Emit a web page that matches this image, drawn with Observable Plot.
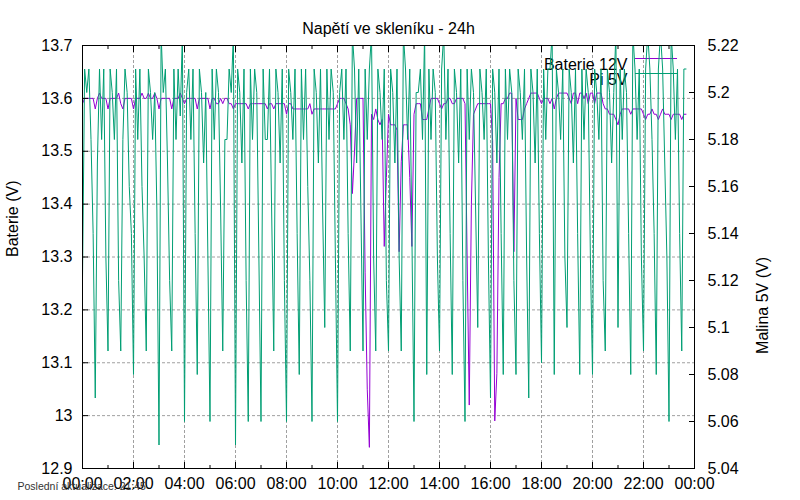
<!DOCTYPE html>
<html><head><meta charset="utf-8">
<script src="https://cdn.jsdelivr.net/npm/d3@7"></script>
<script src="https://cdn.jsdelivr.net/npm/@observablehq/plot@0.6"></script>
<style>body{margin:0;background:#fff}#chart{width:800px;height:500px}</style>
</head><body><div id="chart"></div>
<script>
const title = "Napětí ve skleníku - 24h";
const caption = "Poslední aktualizace: 21:45";
const seriesNames = ["Baterie 12V", "Pi 5V"];
const axisLabels = ["Baterie (V)", "Malina 5V (V)"];
const sampleMinutes = 5;

const battery = [
13.59,13.6,13.6,13.6,13.6,13.6,13.58,13.6,13.61,13.6,13.6,13.6,
13.58,13.6,13.6,13.6,13.6,13.61,13.59,13.58,13.6,13.6,13.6,13.6,
13.58,13.6,13.6,13.6,13.61,13.6,13.6,13.61,13.6,13.6,13.61,13.6,
13.58,13.6,13.6,13.6,13.6,13.6,13.58,13.6,13.6,13.6,13.61,13.6,
13.59,13.6,13.6,13.6,13.6,13.6,13.58,13.6,13.6,13.6,13.6,13.6,
13.58,13.6,13.6,13.59,13.59,13.6,13.59,13.6,13.6,13.59,13.59,13.58,
13.59,13.59,13.59,13.59,13.59,13.59,13.58,13.59,13.59,13.59,13.59,13.59,
13.59,13.59,13.59,13.58,13.59,13.59,13.58,13.59,13.59,13.59,13.59,13.59,
13.57,13.59,13.59,13.58,13.58,13.58,13.58,13.58,13.58,13.58,13.58,13.59,
13.57,13.58,13.58,13.58,13.58,13.58,13.58,13.58,13.58,13.58,13.58,13.58,
13.59,13.6,13.6,13.6,13.59,13.58,13.55,13.42,13.5,13.6,13.6,13.6,
13.6,13.27,13.05,12.94,13.57,13.56,13.58,13.56,13.55,13.56,13.32,13.45,
13.57,13.55,13.55,13.55,13.54,13.31,13.48,13.55,13.55,13.55,13.45,13.32,
13.57,13.59,13.59,13.59,13.56,13.56,13.56,13.58,13.6,13.6,13.6,13.6,
13.59,13.58,13.59,13.59,13.6,13.6,13.59,13.59,13.6,13.6,13.6,13.6,
13.59,13.3,13.02,13.4,13.57,13.58,13.59,13.59,13.59,13.59,13.59,13.59,
13.59,13.52,12.99,13.08,13.45,13.59,13.59,13.6,13.6,13.61,13.61,13.31,
13.6,13.56,13.56,13.56,13.58,13.59,13.6,13.61,13.61,13.61,13.61,13.6,
13.59,13.6,13.6,13.6,13.59,13.6,13.58,13.6,13.61,13.61,13.61,13.61,
13.61,13.6,13.59,13.61,13.61,13.59,13.61,13.61,13.6,13.61,13.59,13.61,
13.61,13.59,13.61,13.61,13.61,13.59,13.58,13.58,13.57,13.57,13.57,13.56,
13.55,13.57,13.58,13.58,13.58,13.58,13.57,13.58,13.58,13.58,13.58,13.58,
13.57,13.56,13.57,13.57,13.58,13.57,13.57,13.56,13.57,13.58,13.57,13.57,
13.57,13.56,13.57,13.57,13.57,13.57,13.56,13.57,13.57
];

const pi = [
5.12,5.21,5.2,5.21,5.18,5.14,5.07,5.17,5.21,5.18,5.21,5.13,
5.09,5.21,5.2,5.18,5.21,5.12,5.09,5.18,5.21,5.2,5.16,5.14,
5.08,5.21,5.18,5.21,5.16,5.13,5.09,5.21,5.2,5.18,5.2,5.15,
5.05,5.225,5.2,5.21,5.17,5.12,5.09,5.21,5.18,5.21,5.19,5.225,
5.06,5.2,5.21,5.18,5.21,5.14,5.08,5.21,5.2,5.17,5.2,5.13,
5.06,5.21,5.18,5.21,5.2,5.15,5.09,5.18,5.18,5.21,5.2,5.225,
5.05,5.21,5.2,5.17,5.21,5.12,5.06,5.21,5.18,5.21,5.2,5.13,
5.06,5.21,5.18,5.18,5.21,5.15,5.09,5.21,5.2,5.17,5.21,5.12,
5.06,5.21,5.2,5.18,5.21,5.14,5.08,5.21,5.18,5.21,5.16,5.12,
5.06,5.21,5.2,5.17,5.21,5.15,5.10,5.21,5.18,5.21,5.2,5.13,
5.06,5.2,5.21,5.18,5.21,5.14,5.09,5.225,5.21,5.17,5.21,5.15,
5.09,5.21,5.18,5.21,5.225,5.13,5.09,5.21,5.2,5.18,5.21,5.12,
5.09,5.21,5.2,5.17,5.21,5.13,5.09,5.225,5.21,5.18,5.21,5.14,
5.06,5.2,5.2,5.21,5.18,5.225,5.08,5.21,5.18,5.21,5.2,5.13,
5.09,5.21,5.225,5.18,5.21,5.14,5.08,5.21,5.2,5.17,5.21,5.12,
5.06,5.21,5.18,5.21,5.2,5.15,5.10,5.21,5.2,5.18,5.21,5.13,
5.07,5.21,5.2,5.17,5.21,5.14,5.08,5.21,5.18,5.21,5.2,5.12,
5.08,5.21,5.2,5.18,5.21,5.13,5.07,5.21,5.2,5.17,5.21,5.14,
5.085,5.21,5.18,5.21,5.21,5.225,5.08,5.21,5.2,5.18,5.21,5.13,
5.10,5.21,5.2,5.17,5.21,5.14,5.08,5.21,5.18,5.21,5.2,5.13,
5.08,5.21,5.2,5.18,5.21,5.12,5.09,5.21,5.2,5.17,5.2,5.225,
5.10,5.21,5.18,5.21,5.2,5.14,5.08,5.225,5.21,5.18,5.21,5.13,
5.09,5.21,5.225,5.21,5.18,5.14,5.08,5.21,5.225,5.21,5.17,5.13,
5.06,5.225,5.21,5.18,5.21,5.14,5.09,5.21,5.21
];

const hourTicks = [0,2,4,6,8,10,12,14,16,18,20,22,24];
const hourMinorTicks = [1,3,5,7,9,11,13,15,17,19,21,23];
const batteryTicks = [12.9,13.0,13.1,13.2,13.3,13.4,13.5,13.6,13.7];
const batteryGrid = [13.0,13.1,13.2,13.3,13.4,13.5,13.6];
const piTicks = [5.04,5.06,5.08,5.10,5.12,5.14,5.16,5.18,5.20,5.22];
const batteryDomain = [12.9, 13.7];
const piDomain = [5.04, 5.22];

const colors = {battery: "#9400d3", pi: "#009e73", grid: "#a0a0a0"};

const k = (batteryDomain[1] - batteryDomain[0]) / (piDomain[1] - piDomain[0]);
const toLeft = v => batteryDomain[0] + (v - piDomain[0]) * k;
const fromLeft = y => piDomain[0] + (y - batteryDomain[0]) / k;

const rows = battery.map((b, i) => ({t: i * sampleMinutes / 60, battery: b, pi: pi[i]}));
const hhmm = h => String(h % 24).padStart(2, "0") + ":00";
const blank = () => "";

const chart = Plot.plot({
  width: 800, height: 500,
  marginLeft: 82, marginRight: 106, marginTop: 45, marginBottom: 32,
  style: {fontFamily: "'Liberation Sans', Arial, sans-serif", fontSize: "16px", background: "#fff", color: "#000"},
  x: {domain: [0, 24], label: null},
  y: {domain: batteryDomain, label: null},
  marks: [
    Plot.gridY(batteryGrid, {stroke: colors.grid, strokeOpacity: 1, strokeDasharray: "3,2"}),
    Plot.gridX(hourTicks.slice(1, -1), {stroke: colors.grid, strokeOpacity: 1, strokeDasharray: "3,2"}),
    Plot.text([seriesNames[0]], {frameAnchor: "top-right", dx: -67, dy: 13, textAnchor: "end", text: d => d, fontSize: 16, fill: "#000"}),
    Plot.text([seriesNames[1]], {frameAnchor: "top-right", dx: -67, dy: 28, textAnchor: "end", text: d => d, fontSize: 16, fill: "#000"}),
    Plot.ruleY([batteryDomain[1]], {dy: 13, insetLeft: 553, insetRight: 17, stroke: colors.battery}),
    Plot.ruleY([batteryDomain[1]], {dy: 28, insetLeft: 553, insetRight: 16, stroke: colors.pi}),
    Plot.line(rows, {x: "t", y: "battery", stroke: colors.battery, strokeWidth: 1, clip: true}),
    Plot.line(rows, {x: "t", y: d => toLeft(d.pi), stroke: colors.pi, strokeWidth: 1, clip: true}),
    Plot.frame({stroke: "#000"}),
    Plot.axisX(hourTicks, {anchor: "bottom", tickSize: -6, tickPadding: 15, tickFormat: hhmm, label: null, fontSize: 16}),
    Plot.axisX(hourMinorTicks, {anchor: "bottom", tickSize: -3, tickFormat: blank, label: null}),
    Plot.axisX(hourTicks, {anchor: "top", tickSize: -6, tickFormat: blank, label: null}),
    Plot.axisX(hourMinorTicks, {anchor: "top", tickSize: -3, tickFormat: blank, label: null}),
    Plot.axisY(batteryTicks, {anchor: "left", tickSize: -6, tickPadding: 16, tickFormat: d3.format(".1~f"), label: null, fontSize: 16}),
    Plot.axisY(piTicks.map(toLeft), {anchor: "right", tickSize: -6, tickPadding: 19, tickFormat: d => d3.format(".2~f")(fromLeft(d)), label: null, fontSize: 16}),
    Plot.text([axisLabels[0]], {frameAnchor: "left", dx: -70, rotate: -90, text: d => d, fontSize: 16, fill: "#000"}),
    Plot.text([axisLabels[1]], {frameAnchor: "right", dx: 68, rotate: -90, text: d => d, fontSize: 16, fill: "#000"}),
    Plot.text([title], {frameAnchor: "top", dy: -23, text: d => d, fontSize: 16, fill: "#000"}),
    Plot.text([caption], {frameAnchor: "bottom-left", dx: -65, dy: 21, textAnchor: "start", text: d => d, fontSize: 10.5, fill: "#333"})
  ]
});
document.getElementById("chart").appendChild(chart);
</script>
</body></html>
